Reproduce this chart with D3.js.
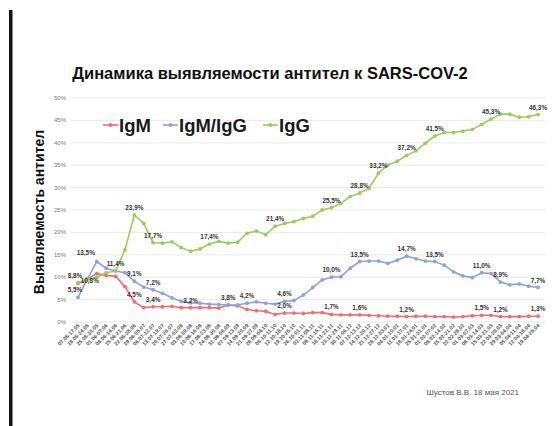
<!DOCTYPE html>
<html>
<head>
<meta charset="utf-8">
<script src="https://cdn.jsdelivr.net/npm/d3@7"></script>
<style>
    body { margin: 0; background: #fff; }
    svg { display: block; font-family: "Liberation Sans", Arial, sans-serif; }
    .grid line { stroke: #e4e4e4; stroke-width: 0.8px; }
    .ytick { font-size: 6px; fill: #777; }
    .xtick { font-size: 5.3px; fill: #555; font-weight: bold; }
    .val { font-size: 6.4px; fill: #333; font-weight: bold; }
</style>
</head>
<body>
<svg id="plot" width="560" height="426"></svg>
<script>
// weekly periods
const dates = ["07.05-17.05", "18.05-24.05", "25.05-31.05", "01.06-07.06", "08.06-14.06",
    "15.06-21.06", "22.06-28.06", "29.06-05.07", "06.07-12.07", "13.07-19.07",
    "20.07-26.07", "27.07-02.08", "03.08-09.08", "10.08-16.08", "17.08-23.08",
    "24.08-30.08", "31.08-06.09", "07.09-13.09", "14.09-20.09", "21.09-27.09",
    "28.09-04.10", "05.10-11.10", "12.10-18.10", "19.10-25.10", "26.10-01.11",
    "02.11-08.11", "09.11-15.11", "16.11-22.11", "23.11-29.11", "30.11-06.12",
    "07.12-13.12", "14.12-20.12", "21.12-27.12", "28.12-03.01", "04.01-10.01",
    "11.01-17.01", "18.01-24.01", "25.01-31.01", "01.02-07.02", "08.02-14.02",
    "15.02-21.02", "22.02-28.02", "01.03-07.03", "08.03-14.03", "15.03-21.03",
    "22.03-28.03", "29.03-04.04", "05.04-11.04", "12.04-18.04", "19.04-25.04"];

const igm = [8.6, 9.6, 10.8, 10.4, 10.2, 7.9, 4.5, 3.2, 3.4, 3.4,
    3.5, 3.2, 3.2, 3.2, 3.2, 3.1, 3.8, 3.6, 2.8, 2.5,
    2.4, 1.7, 2.0, 2.0, 1.9, 2.1, 2.1, 1.7, 1.6, 1.6,
    1.6, 1.5, 1.4, 1.3, 1.3, 1.2, 1.3, 1.3, 1.2, 1.2,
    1.1, 1.2, 1.4, 1.5, 1.5, 1.2, 1.2, 1.2, 1.3, 1.3];

const igmIgg = [5.5, 9.6, 13.5, 12.0, 11.4, 11.0, 9.1, 7.8, 7.2, 6.4,
    5.4, 4.6, 4.3, 4.2, 4.0, 3.9, 3.8, 3.8, 4.2, 4.5,
    4.2, 4.0, 4.6, 4.8, 6.0, 7.7, 9.4, 10.0, 10.1, 12.0,
    13.5, 13.6, 13.6, 13.1, 13.8, 14.7, 14.1, 13.6, 13.5, 12.7,
    11.2, 10.3, 9.9, 11.0, 10.8, 8.9, 8.3, 8.5, 8.0, 7.7];

const igg = [8.8, 9.4, 10.0, 11.0, 11.4, 16.1, 23.9, 22.0, 17.7, 17.6,
    17.9, 16.6, 15.8, 16.3, 17.4, 18.0, 17.6, 17.8, 19.8, 20.3,
    19.5, 21.4, 22.0, 22.4, 23.1, 23.6, 25.0, 25.5, 26.5, 28.0,
    28.8, 29.8, 33.2, 35.0, 35.9, 37.2, 38.2, 39.9, 41.5, 42.3,
    42.3, 42.6, 43.0, 44.1, 45.3, 46.4, 46.4, 45.7, 45.8, 46.3];

// which points carry a value label
const igmLabelIdx = [2, 6, 8, 12, 16, 22, 27, 30, 35, 43, 45, 49];
const igmIggLabelIdx = [0, 2, 6, 8, 18, 22, 27, 30, 35, 38, 43, 45, 49];
const iggLabelIdx = [0, 4, 6, 8, 14, 21, 27, 30, 32, 35, 38, 44, 49];

const yTicks = [0, 5, 10, 15, 20, 25, 30, 35, 40, 45, 50];

const series = [
    { name: "IgM", values: igm, labels: igmLabelIdx, color: "#ee6f76" },
    { name: "IgM/IgG", values: igmIgg, labels: igmIggLabelIdx, color: "#8fa3d8" },
    { name: "IgG", values: igg, labels: iggLabelIdx, color: "#9ccd5c" }
];

// label nudges (dx, dy) where the default "above" spot is not used
const nudge = { "IgM-2": [-7, 14], "IgM/IgG-2": [-11, -2], "IgG-0": [-3, 0], "IgM/IgG-0": [-3, 0] };

const svg = d3.select("#plot");

const x = d3.scalePoint().domain(dates).range([78, 538]);
const y = d3.scaleLinear().domain([0, 50]).range([322, 98]);

// left black bar
svg.append("rect").attr("x", 9).attr("y", 10).attr("width", 3.5).attr("height", 416).attr("fill", "#111");

// title
svg.append("text")
    .attr("x", 270).attr("y", 79)
    .attr("text-anchor", "middle")
    .attr("font-size", 16.5).attr("font-weight", "bold").attr("fill", "#111")
    .text("Динамика выявляемости антител к SARS-COV-2");

// grid + y ticks
const grid = svg.append("g").attr("class", "grid");
grid.selectAll("line").data(yTicks).join("line")
    .attr("x1", 71).attr("x2", 545)
    .attr("y1", d => y(d)).attr("y2", d => y(d));

svg.selectAll("text.ytick").data(yTicks).join("text")
    .attr("class", "ytick")
    .attr("x", 66).attr("y", d => y(d) + 2)
    .attr("text-anchor", "end")
    .text(d => d + "%");

// y title
svg.append("text")
    .attr("transform", "translate(44,212) rotate(-90)")
    .attr("text-anchor", "middle")
    .attr("font-size", 14).attr("font-weight", "bold").attr("fill", "#111")
    .text("Выявляемость антител");

// x labels
svg.selectAll("text.xtick").data(dates).join("text")
    .attr("class", "xtick")
    .attr("text-anchor", "end")
    .attr("transform", d => "translate(" + (x(d) + 2) + ",326) rotate(-45)")
    .text(d => d);

// lines
const line = d3.line().x((d, i) => x(dates[i])).y(d => y(d));
const fmt = d3.format(".1f");

series.forEach(s => {
    const g = svg.append("g");
    g.append("path")
        .attr("d", line(s.values))
        .attr("fill", "none")
        .attr("stroke", s.color)
        .attr("stroke-width", 1.6);
    g.selectAll("circle").data(s.values).join("circle")
        .attr("cx", (d, i) => x(dates[i]))
        .attr("cy", d => y(d))
        .attr("r", 1.9)
        .attr("fill", s.color);
});

series.forEach(s => {
    svg.selectAll(null).data(s.labels).join("text")
        .attr("class", "val")
        .attr("text-anchor", "middle")
        .attr("x", i => x(dates[i]) + (nudge[s.name + "-" + i] || [0, 0])[0])
        .attr("y", i => y(s.values[i]) - 5 + (nudge[s.name + "-" + i] || [0, 0])[1])
        .text(i => fmt(s.values[i]).replace(".", ",") + "%");
});

// legend
const legend = svg.append("g").attr("transform", "translate(103,125)");
const legendX = [0, 60, 160];
series.forEach((s, k) => {
    const lg = legend.append("g").attr("transform", "translate(" + legendX[k] + ",0)");
    lg.append("line").attr("x1", 0).attr("x2", 15).attr("y1", 0).attr("y2", 0)
        .attr("stroke", s.color).attr("stroke-width", 1.6);
    lg.append("circle").attr("cx", 7.5).attr("cy", 0).attr("r", 2).attr("fill", s.color);
    lg.append("text").attr("x", 16).attr("y", 6.5)
        .attr("font-size", 18.5).attr("font-weight", "bold").attr("fill", "#1a1a1a")
        .text(s.name);
});

// footer
svg.append("text")
    .attr("x", 519).attr("y", 395)
    .attr("text-anchor", "end")
    .attr("font-size", 8).attr("fill", "#555")
    .text("Шустов В.В. 18 мая 2021");
</script>
</body>
</html>
